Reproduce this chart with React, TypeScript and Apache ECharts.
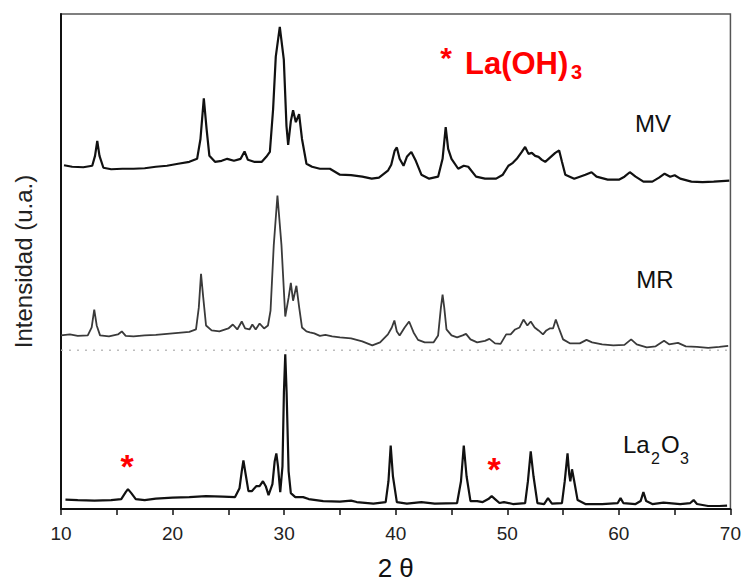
import React, { useEffect, useRef } from "react";
import * as echarts from "echarts";

// 2θ (degrees) and stacked intensity (arbitrary units, offsets included)
const mvData: [number, number][] = [
  [10.27, 346.5], [11, 345], [12, 344.5], [12.8, 346], [13.05, 356], [13.25, 371], [13.45, 356], [13.8, 344],
  [14.5, 342.5], [15.5, 343], [16.5, 343], [17.5, 343.5], [18.5, 345], [19.5, 346], [20.5, 348], [21.5, 350],
  [22.2, 353], [22.5, 373], [22.8, 414], [23.05, 383], [23.3, 356], [23.8, 350], [24.4, 351], [24.9, 353],
  [25.5, 351], [26.1, 353], [26.45, 360.5], [26.75, 352], [27.3, 350], [28.0, 350], [28.4, 355], [28.72, 360],
  [29.01, 403], [29.25, 456], [29.61, 486], [29.97, 453], [30.21, 386], [30.36, 367], [30.6, 391], [30.8, 402],
  [31.05, 390], [31.34, 398], [31.6, 373], [32.0, 348], [32.5, 345], [33.2, 343], [34.1, 343], [35, 337],
  [36, 336.5], [37, 335], [37.85, 333], [38.5, 334], [39.3, 341], [39.6, 347], [39.9, 361], [40.1, 364.5],
  [40.35, 353], [40.7, 346], [41.0, 355], [41.4, 360], [41.8, 351], [42.3, 337], [43, 333], [43.8, 335],
  [44.2, 353], [44.48, 385], [44.7, 363], [45.0, 353], [45.6, 343], [46.1, 346], [46.5, 345], [47.2, 335],
  [48, 333], [49, 333], [49.6, 337], [50.1, 346], [50.5, 349], [50.85, 353], [51.3, 360], [51.6, 365],
  [51.9, 358], [52.2, 359], [52.5, 356], [52.8, 355], [53.1, 352], [53.4, 350], [53.7, 353], [54.0, 356],
  [54.3, 359], [54.65, 361.5], [54.9, 350], [55.2, 337], [56, 333], [57, 337], [57.55, 339.5], [58, 335],
  [59, 332], [60, 332], [60.5, 335], [60.98, 339.5], [61.5, 335], [62.2, 330], [63, 330], [63.6, 334],
  [64.1, 338], [64.6, 335], [65.0, 336.5], [65.5, 333], [66.5, 330], [67.5, 329.5], [68.5, 330], [69.9, 331],
];

const mrData: [number, number][] = [
  [10.0, 175], [10.8, 176], [11.5, 174.5], [12.4, 175], [12.75, 183], [12.98, 201], [13.2, 185], [13.5, 175],
  [14.3, 174], [15.1, 176], [15.45, 179], [15.8, 174.5], [16.5, 174], [17.5, 175], [18.5, 175.5], [19.5, 176.5],
  [20.5, 177.5], [21.5, 178.5], [22.1, 181], [22.35, 203], [22.55, 237], [22.75, 213], [23.0, 185], [23.5, 180],
  [24.2, 179], [25.0, 182], [25.4, 186], [25.8, 181], [26.2, 189], [26.5, 182], [26.9, 181], [27.15, 186],
  [27.45, 181], [27.8, 187], [28.2, 182], [28.55, 185], [28.78, 200], [29.07, 266], [29.4, 316], [29.76, 266],
  [30.1, 194], [30.4, 213], [30.6, 228], [30.8, 210], [31.1, 225], [31.35, 203], [31.6, 183], [32.0, 179],
  [32.3, 178], [32.7, 177], [33.2, 174.5], [33.7, 175.5], [34.3, 174], [35.0, 173], [36.0, 172], [37.0, 169],
  [37.9, 165], [38.6, 168], [39.3, 176], [39.65, 183], [39.88, 190], [40.1, 179], [40.35, 175], [40.8, 183],
  [41.2, 189], [41.6, 178], [42.0, 170.5], [42.6, 168], [43.4, 168], [43.8, 175], [44.05, 203], [44.2, 216],
  [44.35, 203], [44.55, 181], [45.0, 175], [45.5, 173], [46.0, 175], [46.3, 176.5], [46.7, 171], [47.3, 168],
  [48.0, 169.5], [48.4, 171.5], [48.9, 167], [49.4, 166.5], [49.9, 176], [50.3, 176], [50.7, 181], [51.1, 183],
  [51.45, 191], [51.8, 185], [52.1, 189], [52.45, 183], [52.8, 180], [53.2, 176], [53.5, 180], [53.8, 182],
  [54.1, 182], [54.35, 191], [54.6, 183], [55.0, 171], [55.6, 167], [56.5, 167], [57.1, 170.5], [57.6, 168],
  [58.5, 166], [59.5, 165], [60.5, 165.5], [61.1, 171], [61.6, 166], [62.5, 163], [63.3, 164], [64.05, 169.5],
  [64.5, 166], [65.3, 167.5], [66, 164], [67, 163.5], [68, 162.5], [69, 163.5], [69.8, 164.5],
];

const la2o3Data: [number, number][] = [
  [10.4, 9.5], [11.5, 9], [13, 8.5], [14.5, 9], [15.4, 10], [15.8, 17], [16.0, 20], [16.3, 16],
  [16.7, 10], [17.5, 9], [18.5, 10.5], [20, 11.5], [21.5, 12], [23, 13], [24.5, 12.5], [25.6, 12],
  [26.0, 21], [26.2, 38], [26.35, 49], [26.55, 35], [26.8, 18], [27.1, 18], [27.5, 23], [27.8, 23],
  [28.1, 28], [28.35, 23], [28.6, 14], [28.95, 25], [29.15, 48], [29.3, 56], [29.45, 43], [29.65, 17],
  [29.85, 43], [29.98, 118], [30.1, 156], [30.22, 118], [30.4, 38], [30.6, 16], [31, 12], [31.7, 12],
  [32.2, 10], [33.5, 8], [35, 7.5], [36.0, 8.5], [36.5, 7], [38, 5.5], [39.1, 7], [39.35, 28],
  [39.55, 64], [39.75, 33], [40.1, 7], [41, 5.5], [42.3, 7], [43.5, 5.5], [45.5, 6], [45.85, 28],
  [46.1, 64], [46.35, 33], [46.7, 8], [47.3, 8], [47.8, 7], [48.3, 10], [48.6, 13], [48.9, 10],
  [49.3, 6], [49.7, 7], [50.5, 5], [51.6, 6], [51.85, 28], [52.1, 58], [52.35, 33], [52.7, 6],
  [53.3, 5], [53.65, 11], [54.0, 5.5], [54.9, 6], [55.15, 28], [55.4, 56], [55.55, 35], [55.65, 28],
  [55.8, 40], [56.0, 28], [56.3, 9], [57, 5], [58.5, 5], [59.9, 6], [60.15, 11], [60.4, 6],
  [61.5, 5], [61.95, 8], [62.2, 17], [62.45, 8], [63, 5], [64, 6.5], [65.5, 5], [66.4, 6],
  [66.7, 9], [67.0, 5], [68, 3], [69, 3], [69.7, 3.5],
];

const separatorLine: [number, number][] = [[10, 160], [70, 160]];

const xMin = 10;
const xMax = 70;
const xStep = 5;
const yMin = 0;
const yMax = 499;

const FONT = "'Liberation Sans', Arial, Helvetica, sans-serif";

export default function App() {
  const ref = useRef<HTMLDivElement>(null);

  useEffect(() => {
    if (!ref.current) return;
    const chart = echarts.init(ref.current, null, { renderer: "svg" });
    chart.setOption({
      animation: false,
      backgroundColor: "#ffffff",
      textStyle: { fontFamily: FONT },
      grid: {
        left: 61,
        right: 13,
        top: 14,
        bottom: 73,
        show: true,
        borderColor: "#555",
        borderWidth: 1.5,
        backgroundColor: "transparent",
      },
      xAxis: {
        type: "value",
        min: xMin,
        max: xMax,
        interval: xStep,
        name: "2 θ",
        nameLocation: "middle",
        nameGap: 46,
        nameTextStyle: { fontSize: 26, color: "#111", fontFamily: FONT },
        axisLine: { show: true, lineStyle: { color: "#111", width: 2 } },
        axisTick: { show: true, inside: false, length: 6, lineStyle: { color: "#111", width: 1.5 } },
        axisLabel: {
          fontSize: 19,
          color: "#222",
          margin: 15,
          formatter: (v: number) => (v % 10 === 0 ? String(v) : ""),
        },
        splitLine: { show: false },
      },
      yAxis: {
        type: "value",
        min: yMin,
        max: yMax,
        name: "Intensidad (u.a.)",
        nameLocation: "middle",
        nameRotate: 90,
        nameGap: 26,
        nameTextStyle: { fontSize: 24, color: "#222", fontFamily: FONT },
        axisLine: { show: true, lineStyle: { color: "#111", width: 2 } },
        axisTick: { show: false },
        axisLabel: { show: false },
        splitLine: { show: false },
      },
      series: [
        {
          name: "separator",
          type: "line",
          data: separatorLine,
          symbol: "none",
          silent: true,
          lineStyle: { color: "#bdbdbd", width: 1.5, type: [2, 6] },
        },
        {
          name: "MV",
          type: "line",
          data: mvData,
          symbol: "none",
          lineStyle: { color: "#111", width: 2.2 },
        },
        {
          name: "MR",
          type: "line",
          data: mrData,
          symbol: "none",
          lineStyle: { color: "#3a3a3a", width: 1.8 },
        },
        {
          name: "La2O3",
          type: "line",
          data: la2o3Data,
          symbol: "none",
          lineStyle: { color: "#111", width: 2.2 },
        },
      ],
      graphic: [
        { type: "text", x: 653, y: 123, style: { text: "MV", fill: "#111", font: `24px ${FONT}`, textAlign: "center", textVerticalAlign: "middle" } },
        { type: "text", x: 655, y: 279, style: { text: "MR", fill: "#111", font: `24px ${FONT}`, textAlign: "center", textVerticalAlign: "middle" } },
        { type: "text", x: 623, y: 444, style: { text: "La", fill: "#111", font: `24px ${FONT}`, textAlign: "left", textVerticalAlign: "middle" } },
        { type: "text", x: 651, y: 458, style: { text: "2", fill: "#111", font: `16px ${FONT}`, textAlign: "left", textVerticalAlign: "middle" } },
        { type: "text", x: 661, y: 444, style: { text: "O", fill: "#111", font: `24px ${FONT}`, textAlign: "left", textVerticalAlign: "middle" } },
        { type: "text", x: 680, y: 458, style: { text: "3", fill: "#111", font: `16px ${FONT}`, textAlign: "left", textVerticalAlign: "middle" } },
        { type: "text", x: 446, y: 57, style: { text: "*", fill: "#ff0000", font: `bold 30px ${FONT}`, textAlign: "center", textVerticalAlign: "middle" } },
        { type: "text", x: 465, y: 63, style: { text: "La(OH)", fill: "#ff0000", font: `bold 31px ${FONT}`, textAlign: "left", textVerticalAlign: "middle" } },
        { type: "text", x: 571, y: 72, style: { text: "3", fill: "#ff0000", font: `bold 20px ${FONT}`, textAlign: "left", textVerticalAlign: "middle" } },
        { type: "text", x: 127, y: 466, style: { text: "*", fill: "#ff0000", font: `bold 34px ${FONT}`, textAlign: "center", textVerticalAlign: "middle" } },
        { type: "text", x: 494, y: 469, style: { text: "*", fill: "#ff0000", font: `bold 34px ${FONT}`, textAlign: "center", textVerticalAlign: "middle" } },
      ],
    });
    return () => chart.dispose();
  }, []);

  return (
    <div
      ref={ref}
      style={{ position: "fixed", left: 0, top: 0, width: 744, height: 586, background: "#fff" }}
    />
  );
}
